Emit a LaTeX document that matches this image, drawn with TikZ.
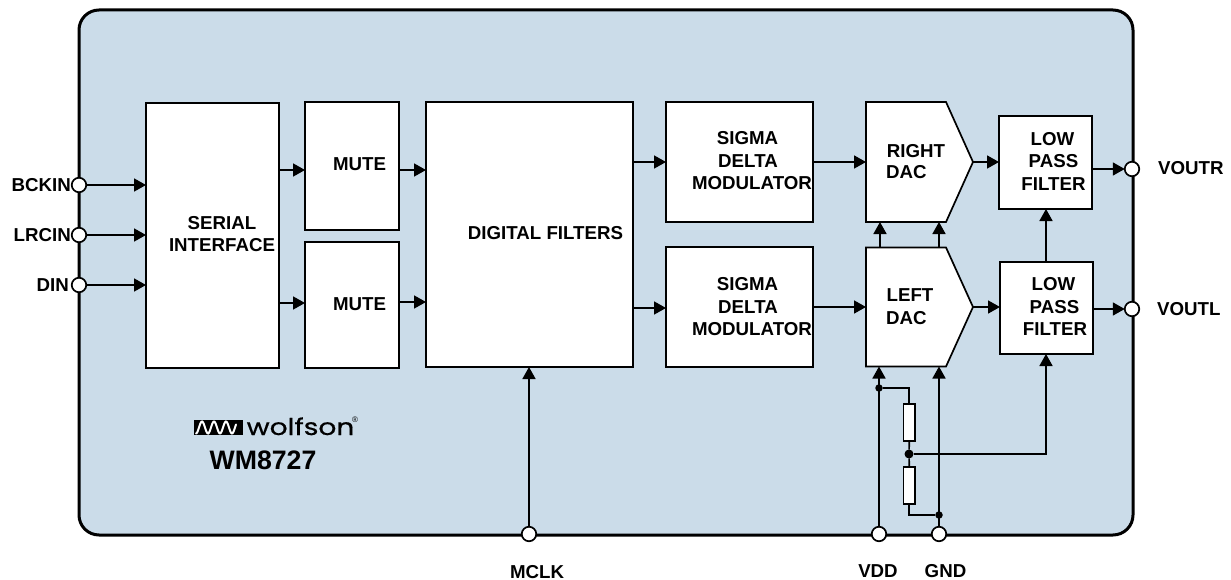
\documentclass[tikz,border=0pt]{standalone}
\usepackage{fontspec}
\setmainfont{Liberation Sans}
\newfontfamily\logofont[FakeBold=0.6]{Poppins}
\usetikzlibrary{arrows.meta}
\definecolor{chipblue}{RGB}{203,220,233}
\tikzset{
  x=1pt,y=-1pt,
  wire/.style={line width=1.7pt,black},
  sig/.style={wire,-{Triangle[length=12pt,width=13pt]}},
  blockbox/.style={draw=black,line width=1.7pt,fill=white,inner sep=0pt,outer sep=0pt,anchor=north west},
  lab/.style={font=\bfseries\fontsize{18.7}{22}\selectfont,align=center,inner sep=0pt,text=black},
  pin/.style={circle,draw=black,line width=1.7pt,fill=white,minimum size=14.5pt,inner sep=0pt,outer sep=0pt},
  jdot/.style={circle,fill=black,inner sep=0pt,outer sep=0pt,minimum size=#1},
  res/.style={blockbox,minimum width=11.5pt,minimum height=37pt},
  ghost/.style={inner sep=0pt,outer sep=0pt,anchor=north west}
}
\newcommand{\blk}[5]{\node[blockbox,minimum width=#4pt-#2pt,minimum height=#5pt-#3pt] (#1) at (#2,#3) {};}
\begin{document}
\begin{tikzpicture}
\useasboundingbox (0,0) rectangle (1231,580);
\fill[white] (0,0) rectangle (1231,580);
% chip body
\node[draw=black,line width=3pt,fill=chipblue,rounded corners=20pt,inner sep=0pt,outer sep=0pt,anchor=north west,minimum width=1054pt,minimum height=525pt] (chip) at (79,10) {};
% blocks
\blk{serial}{146}{103}{279}{368}
\blk{muteA}{305}{102}{399}{230}
\blk{muteB}{305}{242}{399}{368}
\blk{digital}{426}{102}{633}{367}
\blk{sigmaA}{666}{102}{813}{222}
\blk{sigmaB}{666}{247}{813}{367}
\blk{lpfA}{999}{116}{1092}{209}
\blk{lpfB}{1000}{262}{1093}{354}
% DACs
\node[ghost,minimum width=107pt,minimum height=120pt] (rdac) at (866,102) {};
\node[ghost,minimum width=107pt,minimum height=119pt] (ldac) at (866,247.5) {};
\draw[line width=1.7pt,fill=white,line join=miter] (rdac.north west) -- ++(80,0) -- (rdac.east) -- (rdac.south west -| 946,0) -- (rdac.south west) -- cycle;
\draw[line width=1.7pt,fill=white,line join=miter] (ldac.north west) -- ++(80,0) -- (ldac.east) -- (ldac.south west -| 946,0) -- (ldac.south west) -- cycle;
% resistors
\node[res] (r1) at (903.5,404) {};
\node[res] (r2) at (903.5,467) {};
% pins
\node[pin] (pbck) at (79,185) {};
\node[pin] (plr) at (79,235) {};
\node[pin] (pdin) at (79,285) {};
\node[pin] (pvoutr) at (1132,169) {};
\node[pin] (pvoutl) at (1132,309) {};
\node[pin] (pmclk) at (529,534) {};
\node[pin] (pvdd) at (879,534) {};
\node[pin,minimum height=12pt,minimum width=14.5pt] (pgnd) at (939,534) {};
% junctions
\node[jdot=7.5pt] (jvdd) at (879,388) {};
\node[jdot=9pt] (jmid) at (909,454) {};
\node[jdot=7.5pt] (jgnd) at (939,515) {};
% connectors
\draw[sig] (pbck) -- (pbck -| serial.west);
\draw[sig] (plr) -- (plr -| serial.west);
\draw[sig] (pdin) -- (pdin -| serial.west);
\draw[sig] (serial.east |- 0,170) -- (muteA.west |- 0,170);
\draw[sig] (serial.east |- 0,303) -- (muteB.west |- 0,303);
\draw[sig] (muteA.east |- 0,170) -- (digital.west |- 0,170);
\draw[sig] (muteB.east |- 0,302) -- (digital.west |- 0,302);
\draw[sig] (digital.east |- 0,162) -- (sigmaA.west |- 0,162);
\draw[sig] (digital.east |- 0,308) -- (sigmaB.west |- 0,308);
\draw[sig] (sigmaA.east |- rdac.east) -- (rdac.west);
\draw[sig] (sigmaB.east |- ldac.east) -- (ldac.west);
\draw[sig] (rdac.east) -- (rdac.east -| lpfA.west);
\draw[sig] (ldac.east) -- (ldac.east -| lpfB.west);
\draw[sig] (lpfA.east |- pvoutr) -- (pvoutr);
\draw[sig] (lpfB.east |- pvoutl) -- (pvoutl);
\draw[sig] (880,0 |- ldac.north) -- (880,0 |- rdac.south);
\draw[sig] (939,0 |- ldac.north) -- (939,0 |- rdac.south);
\draw[sig] (lpfB.north -| 1046,0) -- (lpfA.south -| 1046,0);
\draw[sig] (pmclk) -- (pmclk |- digital.south);
\draw[sig] (pvdd) -- (pvdd |- ldac.south);
\draw[sig] (pgnd) -- (pgnd |- ldac.south);
\draw[wire] (jvdd) -| (r1.north);
\draw[wire] (r1.south) -- (jmid);
\draw[wire] (jmid) -- (r2.north);
\draw[wire] (r2.south) |- (jgnd);
\draw[sig] (jmid) -| (lpfB.south -| 1046,0);
% labels
\node[lab] (lserial) at (222,234) {SERIAL\\[0pt]INTERFACE};
\node[lab] (lmuteA) at (359.5,164) {MUTE};
\node[lab] (lmuteB) at (359.5,304) {MUTE};
\node[lab] (ldig) at (545.5,233) {DIGITAL FILTERS};
\node[lab] (ls1a) at (747.5,138) {SIGMA};
\node[lab] (ls1b) at (748,161) {DELTA};
\node[lab] (ls1c) at (752,183) {MODULATOR};
\node[lab] (ls2a) at (747.5,284) {SIGMA};
\node[lab] (ls2b) at (748,307) {DELTA};
\node[lab] (ls2c) at (752,329) {MODULATOR};
\node[lab] (lr1) at (916,151) {RIGHT};
\node[lab,anchor=west] (lr2) at (886,172) {DAC};
\node[lab] (ll1) at (910,295) {LEFT};
\node[lab,anchor=west] (ll2) at (886,318) {DAC};
\node[lab] (lf1a) at (1052.5,139) {LOW};
\node[lab] (lf1b) at (1053.5,161) {PASS};
\node[lab] (lf1c) at (1053.5,184) {FILTER};
\node[lab] (lf2a) at (1053.5,284) {LOW};
\node[lab] (lf2b) at (1054.5,307) {PASS};
\node[lab] (lf2c) at (1055,329) {FILTER};
\node[lab,anchor=east] (lbck) at (71,185) {BCKIN};
\node[lab,anchor=east] (llr) at (71,235) {LRCIN};
\node[lab,anchor=east] (ldin) at (69,285) {DIN};
\node[lab,anchor=west] (lvoutr) at (1158,168) {VOUTR};
\node[lab,anchor=west] (lvoutl) at (1157,309) {VOUTL};
\node[lab] (lmclk) at (537,572) {MCLK};
\node[lab] (lvdd) at (878,571) {VDD};
\node[lab] (lgnd) at (945.5,571) {GND};
% logo
\fill[black] (194,420) rectangle (243,435);
\draw[white,line width=2pt,line cap=round] plot[smooth,samples=60,domain=196:236] (\x,{427.5-6*cos((\x-202)*30)});
\node[inner sep=0pt,anchor=base west,font=\logofont\fontsize{23}{23}\selectfont,text=black] (lword) at (246.5,435) {\scalebox{1.22}[1]{wolfson}};
\node[inner sep=0pt,font=\fontsize{8}{8}\selectfont,text=black] (lreg) at (355,420) {®};
\node[inner sep=0pt,font=\bfseries\fontsize{26.7}{30}\selectfont,text=black] (lpart) at (263,460) {WM8727};
\end{tikzpicture}
\end{document}
